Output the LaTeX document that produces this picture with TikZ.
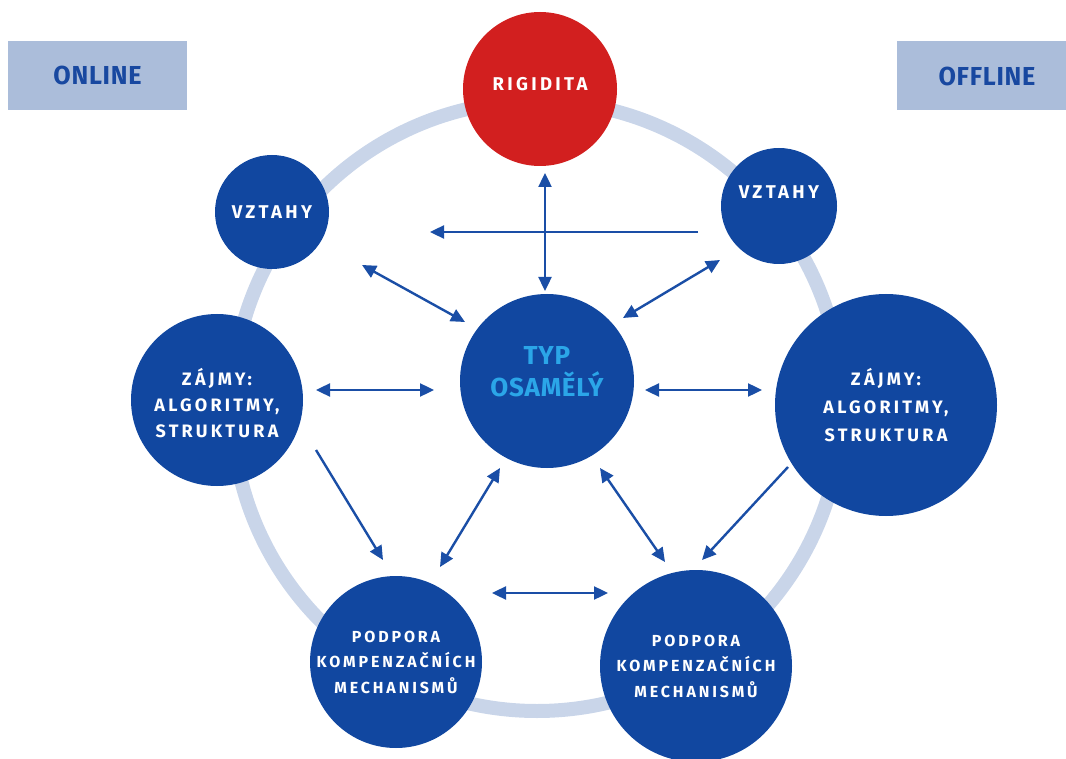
\documentclass[tikz,border=0pt]{standalone}
\usepackage{fontspec}
\setmainfont{Fira Sans}
\newfontfamily\spaced{Fira Sans}[LetterSpace=18]
\newfontfamily\cond{Fira Sans}[FakeStretch=0.97,LetterSpace=3]
\newfontfamily\typfont{Fira Sans}[LetterSpace=3]
\usetikzlibrary{arrows.meta}
\definecolor{cblue}{HTML}{1147A0}
\definecolor{ablue}{HTML}{1A4EA6}
\definecolor{ringc}{HTML}{C9D5E9}
\definecolor{boxc}{HTML}{ABBDDA}
\definecolor{boxt}{HTML}{1848A0}
\definecolor{cred}{HTML}{D21F1F}
\definecolor{typt}{HTML}{2BA6E8}
\tikzset{
  ring/.style={draw=ringc, line width=14pt},
  hdrbox/.style={fill=boxc, text=boxt, inner sep=0pt, font=\cond\bfseries\fontsize{26}{30}\selectfont},
  circ/.style={circle, fill=cblue, draw=none, inner sep=0pt},
  lbl/.style={text=white, align=center, inner sep=0pt, font=\spaced\bfseries\fontsize{18.5}{26}\selectfont},
  lblbig/.style={text=white, align=center, inner sep=0pt, font=\spaced\bfseries\fontsize{18}{28}\selectfont},
  lblsmall/.style={text=white, align=center, inner sep=0pt, font=\spaced\bfseries\fontsize{16}{25.5}\selectfont},
  arr/.style={draw=ablue, line width=2.4pt, -{Triangle[length=14pt,width=13pt]}},
  darr/.style={draw=ablue, line width=2.4pt, {Triangle[length=14pt,width=13pt]}-{Triangle[length=14pt,width=13pt]}}
}
\begin{document}
\begin{tikzpicture}[x=1pt,y=-1pt]
\useasboundingbox (0,0) rectangle (1066,759);
% ring
\draw[ring] (537,406) circle[radius=305];
% header boxes
\node[hdrbox, minimum width=179pt, minimum height=69pt] (online) at (97.5,75.5) {ONLINE};
\node[hdrbox, minimum width=190pt, minimum height=69pt] (offline) at (992,75.5) {};
\node[text=boxt, inner sep=0pt, font=\cond\bfseries\fontsize{26}{30}\selectfont] (offlinet) at (987,76) {OFFLINE};
% circles
\node[circ, fill=cred, minimum size=154pt] (rig) at (540,89) {};
\node[lbl] (rigt) at (540,84) {RIGIDITA};
\node[circ, minimum size=114pt] (vl) at (272,212) {};
\node[lbl] (vlt) at (272,212) {VZTAHY};
\node[circ, minimum size=116pt] (vr) at (779,206) {};
\node[lbl] (vrt) at (779,192) {VZTAHY};
\node[circ, minimum size=172pt] (zl) at (217,400) {};
\node[lblbig, font=\spaced\bfseries\fontsize{18}{26}\selectfont] (zlt) at (217,403) {ZÁJMY:\\ALGORITMY,\\STRUKTURA};
\node[circ, minimum size=222pt] (zr) at (886,405) {};
\node[lblbig] (zrt) at (886,405) {ZÁJMY:\\ALGORITMY,\\STRUKTURA};
\node[circ, minimum size=174pt] (typ) at (547,381) {};
\node[text=typt, align=center, inner sep=0pt, font=\typfont\bfseries\fontsize{26}{32}\selectfont] (typtx) at (547,372) {TYP\\OSAMĚLÝ};
\node[circ, minimum size=172pt] (pl) at (396,662) {};
\node[lblsmall] (plt) at (396,662) {PODPORA\\KOMPENZAČNÍCH\\MECHANISMŮ};
\node[circ, minimum size=192pt] (pr) at (696,666) {};
\node[lblsmall] (prt) at (696,666) {PODPORA\\KOMPENZAČNÍCH\\MECHANISMŮ};
% arrow end coordinates
\coordinate (a1s) at (545,173);
\coordinate (a1e) at (545,291);
\coordinate (a2s) at (698,232);
\coordinate (a2e) at (430,232);
\coordinate (a3s) at (362,265);
\coordinate (a3e) at (465,322);
\coordinate (a4s) at (720,260);
\coordinate (a4e) at (623,318);
\coordinate (a5s) at (316,390);
\coordinate (a5e) at (434,390);
\coordinate (a6s) at (645,390);
\coordinate (a6e) at (762,390);
\coordinate (a7s) at (316,450);
\coordinate (a7e) at (383,560);
\coordinate (a8s) at (500,468);
\coordinate (a8e) at (440,567);
\coordinate (a9s) at (600,468);
\coordinate (a9e) at (665,562);
\coordinate (a10s) at (788,467);
\coordinate (a10e) at (702,560);
\coordinate (a11s) at (492,593);
\coordinate (a11e) at (608,593);
% connectors
\draw[darr] (a1s) -- (a1e);
\draw[arr] (a2s) -- (a2e);
\draw[darr] (a3s) -- (a3e);
\draw[darr] (a4s) -- (a4e);
\draw[darr] (a5s) -- (a5e);
\draw[darr] (a6s) -- (a6e);
\draw[arr] (a7s) -- (a7e);
\draw[darr] (a8s) -- (a8e);
\draw[darr] (a9s) -- (a9e);
\draw[arr] (a10s) -- (a10e);
\draw[darr] (a11s) -- (a11e);
\end{tikzpicture}
\end{document}
